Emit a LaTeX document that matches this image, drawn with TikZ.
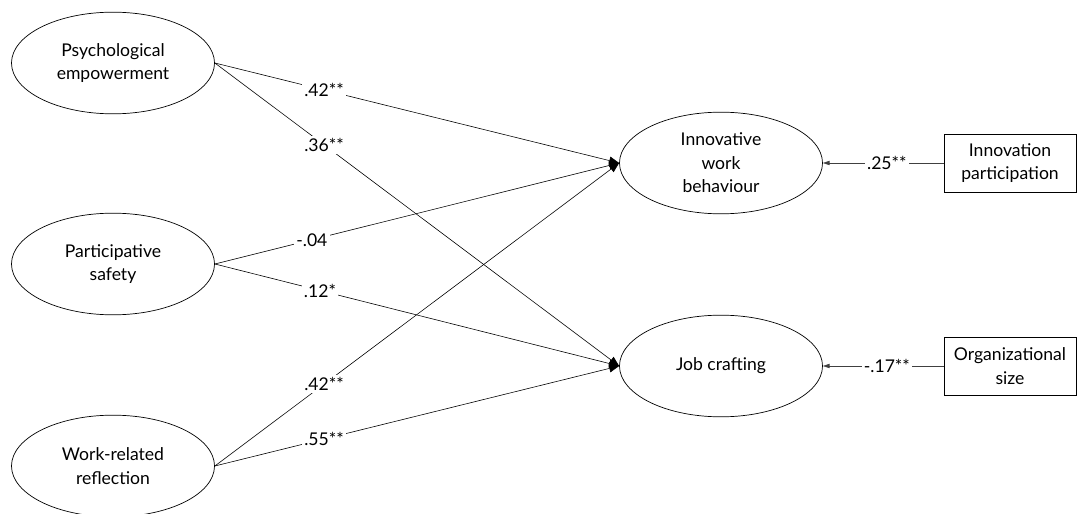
\documentclass[tikz,border=0pt]{standalone}
\usepackage{fontspec}
\setmainfont{Lato}
\usetikzlibrary{arrows.meta,positioning,shapes.geometric}
\begin{document}
\begin{tikzpicture}[x=0.03cm,y=-0.03cm,font=\fontsize{15}{20}\selectfont,
 latent/.style={draw,ellipse,line width=0.6pt,minimum width=6.09cm,%
   minimum height=3.05cm,inner sep=0pt,align=center},
 obs/.style={draw,rectangle,line width=0.6pt,minimum width=3.96cm,%
   minimum height=1.74cm,inner sep=0pt,align=center},
 effect/.style={-{Triangle[length=3mm,width=2.4mm]},line width=0.5pt},
 ctrl/.style={-{Triangle[length=2mm,width=1.3mm]},line width=0.5pt,draw=black!75},
 coef/.style={fill=white,inner sep=2pt,pos=0.27}]
\useasboundingbox (0,0) rectangle (1078,514);
% predictors
\node[latent] (pe) at (113,63) {Psychological\\empowerment};
\node[latent] (ps) at (113,264) {Participative\\safety};
\node[latent] (wr) at (113,466) {Work-related\\reflection};
% outcomes
\node[latent] (iwb) at (721,163) {Innovative\\work\\behaviour};
\node[latent] (jc) at (721,366) {Job crafting};
% controls
\node[obs] (ip) at (1010,163) {Innovation\\participation};
\node[obs] (os) at (1010,366) {Organizational\\size};
% paths
\draw[effect] (pe.east) -- node[coef] {.42**} (iwb.west);
\draw[effect] (pe.east) -- node[coef] {.36**} (jc.west);
\draw[effect] (ps.east) -- node[coef,pos=0.24] {-.04} (iwb.west);
\draw[effect] (ps.east) -- node[coef,pos=0.26] {.12*} (jc.west);
\draw[effect] (wr.east) -- node[coef] {.42**} (iwb.west);
\draw[effect] (wr.east) -- node[coef] {.55**} (jc.west);
\draw[ctrl] (ip.west) -- node[coef,pos=0.47] {.25**} (iwb.east);
\draw[ctrl] (os.west) -- node[coef,pos=0.47] {-.17**} (jc.east);
\end{tikzpicture}
\end{document}
